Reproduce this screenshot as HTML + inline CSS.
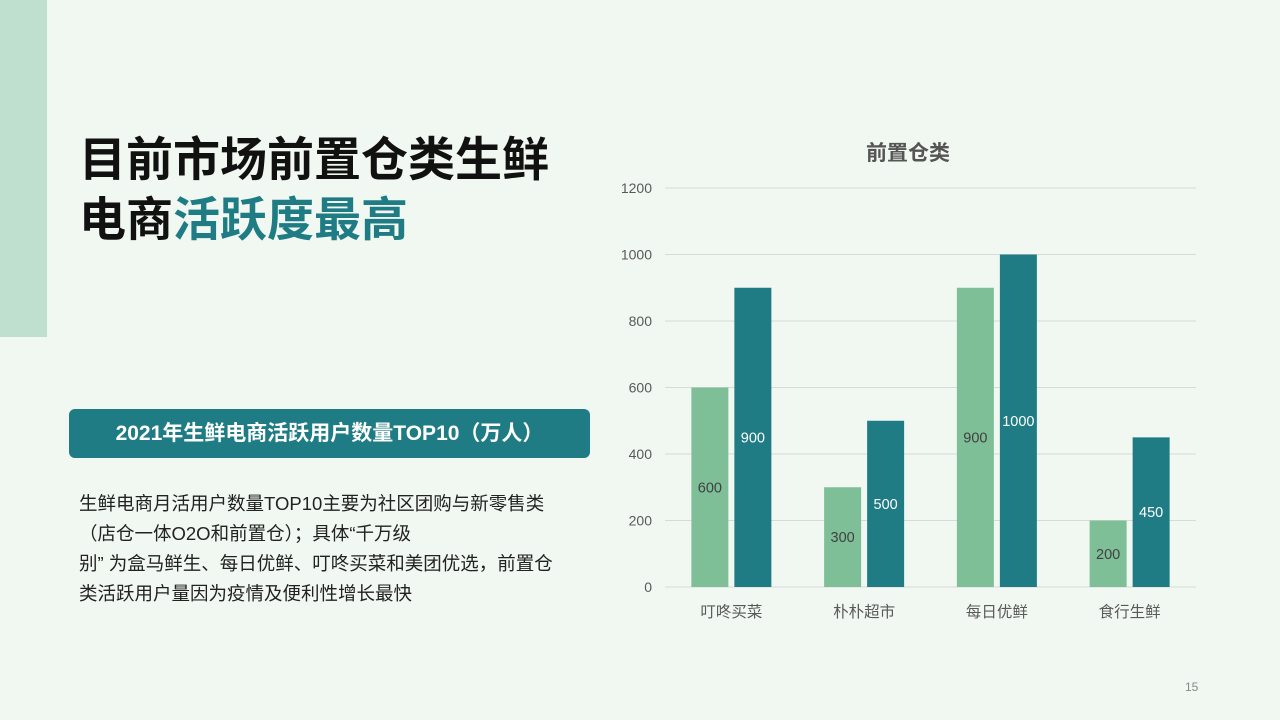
<!DOCTYPE html>
<html><head><meta charset="utf-8">
<style>
body{margin:0;width:1280px;height:720px;background:#f1f8f1;position:relative;overflow:hidden;font-family:"Liberation Sans","Noto Sans CJK SC",sans-serif;}
.side{position:absolute;left:0;top:0;width:47px;height:337px;background:#bfe0cf;}
h1{position:absolute;left:79px;top:126px;margin:0;font-size:47px;line-height:60px;font-weight:bold;color:#111;font-family:"Noto Sans CJK SC",sans-serif;letter-spacing:0px;}
h1 span{color:#1f7c84;}
.banner{position:absolute;left:69px;top:409px;width:521px;height:49px;background:#1f7c84;border-radius:6px;color:#fff;font-size:21px;font-weight:bold;text-align:center;line-height:49px;}
.para{position:absolute;left:79px;top:489px;width:520px;font-size:18.5px;line-height:30px;color:#222;}
.pg{position:absolute;left:1185px;top:680px;font-size:12px;color:#888;}
</style></head><body>
<div class="side"></div>
<h1>目前市场前置仓类生鲜<br>电商<span>活跃度最高</span></h1>
<div class="banner">2021年生鲜电商活跃用户数量TOP10（万人）</div>
<div class="para">生鲜电商月活用户数量TOP10主要为社区团购与新零售类<br>（店仓一体O2O和前置仓）；具体“千万级<br>别” 为盒马鲜生、每日优鲜、叮咚买菜和美团优选，前置仓<br>类活跃用户量因为疫情及便利性增长最快</div>
<div class="pg">15</div>
<svg id="chart" width="1280" height="720" style="position:absolute;left:0;top:0"></svg>
<script>
const categories=["叮咚买菜","朴朴超市","每日优鲜","食行生鲜"];
const series1=[600,300,900,200];
const series2=[900,500,1000,450];
const ticks=[0,200,400,600,800,1000,1200];
const svg=document.getElementById('chart');
const NS='http://www.w3.org/2000/svg';
const x0=665,x1=1196,yb=587,yt=188,ymax=1200;
const y=v=>yb-(v/ymax)*(yb-yt);
const gw=(x1-x0)/categories.length;
function mk(t,a,txt){const e=document.createElementNS(NS,t);for(const k in a)e.setAttribute(k,a[k]);if(txt!==undefined)e.textContent=txt;svg.appendChild(e);return e;}
let t=mk('text',{x:908,y:160,'text-anchor':'middle','font-size':21,'font-weight':'bold',fill:'#555','font-family':'Noto Sans CJK SC,sans-serif'},'前置仓类');


ticks.forEach(v=>{
 const l=mk('line',{x1:x0,x2:x1,y1:y(v),y2:y(v),stroke:'#d9d9d9','stroke-width':1});
 
 
 const tx=mk('text',{x:652,y:y(v)+5,'text-anchor':'end','font-size':14,fill:'#595959'},String(v));
 
 
});
const bw=37,gap=6;
categories.forEach((c,i)=>{
 const cx=x0+gw*(i+0.5);
 const b1x=cx-gap/2-bw, b2x=cx+gap/2;
 const r1=mk('rect',{x:b1x,y:y(series1[i]),width:bw,height:yb-y(series1[i]),fill:'#7fbf98'});
 
 
 const r2=mk('rect',{x:b2x,y:y(series2[i]),width:bw,height:yb-y(series2[i]),fill:'#1f7c84'});
 
 
 const l1=mk('text',{x:b1x+bw/2,y:(y(series1[i])+yb)/2+5,'text-anchor':'middle','font-size':14.5,fill:'#404040'},String(series1[i]));
 
 
 const l2=mk('text',{x:b2x+bw/2,y:(y(series2[i])+yb)/2+5,'text-anchor':'middle','font-size':14.5,fill:'#fff'},String(series2[i]));
 
 
 const cl=mk('text',{x:cx,y:617,'text-anchor':'middle','font-size':15.5,fill:'#595959'},c);
 
 
});
</script>
</body></html>
